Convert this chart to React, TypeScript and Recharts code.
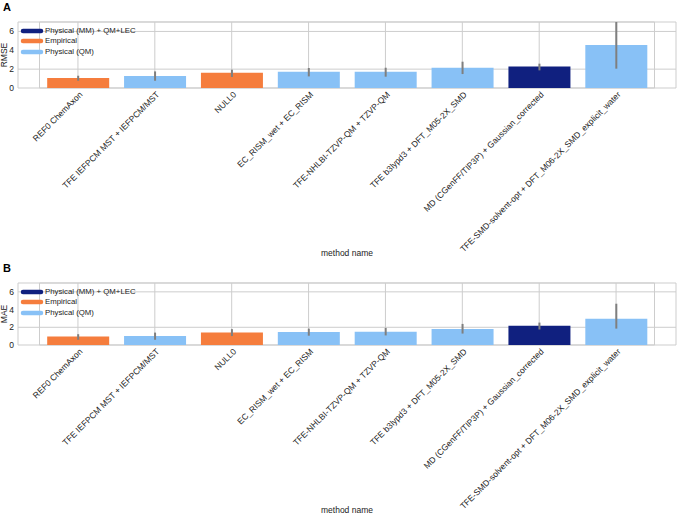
import {
  Bar,
  BarChart,
  CartesianGrid,
  Cell,
  ErrorBar,
  Label,
  ReferenceArea,
  XAxis,
  YAxis,
} from "recharts";

const methods = [
  "REF0 ChemAxon",
  "TFE IEFPCM MST + IEFPCM/MST",
  "NULL0",
  "EC_RISM_wet + EC_RISM",
  "TFE-NHLBI-TZVP-QM + TZVP-QM",
  "TFE b3lypd3 + DFT_M05-2X_SMD",
  "MD (CGenFF/TIP3P) + Gaussian_corrected",
  "TFE-SMD-solvent-opt + DFT_M06-2X_SMD_explicit_water",
];
const groups = [
  "Empirical",
  "Physical (QM)",
  "Empirical",
  "Physical (QM)",
  "Physical (QM)",
  "Physical (QM)",
  "Physical (MM) + QM+LEC",
  "Physical (QM)",
];

const rmse = [1.07, 1.27, 1.62, 1.73, 1.72, 2.15, 2.29, 4.56];
const rmseLow = [0.77, 0.77, 1.17, 1.23, 1.2, 1.48, 1.87, 2.05];
const rmseHigh = [1.3, 1.76, 1.94, 2.12, 2.15, 2.79, 2.58, 7.0];

const mae = [0.95, 1.01, 1.4, 1.47, 1.51, 1.82, 2.17, 2.95];
const maeLow = [0.59, 0.59, 1.01, 1.05, 1.08, 1.29, 1.75, 1.85];
const maeHigh = [1.22, 1.4, 1.79, 1.85, 1.93, 2.38, 2.53, 4.66];

const yTicks = [0, 2, 4, 6];
const legendOrder = ["Physical (MM) + QM+LEC", "Empirical", "Physical (QM)"];

const groupColors: Record<string, string> = {
  "Physical (MM) + QM+LEC": "#10207f",
  Empirical: "#f57d3d",
  "Physical (QM)": "#88c1f6",
};

const FONT = "'Liberation Sans', Arial, sans-serif";
const GRID = "#cdcdcd";

function MethodTick({ x, y, payload }: any) {
  return (
    <g transform={`translate(${x + 3},${y + 3})`}>
      <text
        x={0}
        y={0}
        dy={3}
        textAnchor="end"
        transform="rotate(-45)"
        fontSize={8.5}
        fontFamily={FONT}
        fill="#222"
      >
        {payload.value}
      </text>
    </g>
  );
}

function PanelLegend() {
  return (
    <div
      style={{
        position: "absolute",
        left: 20,
        top: 26,
        fontFamily: FONT,
        fontSize: 7.8,
        color: "#222",
        lineHeight: "10.3px",
      }}
    >
      {legendOrder.map((g) => (
        <div key={g} style={{ display: "flex", alignItems: "center" }}>
          <svg width={24} height={10}>
            <line
              x1={3}
              y1={5}
              x2={21}
              y2={5}
              stroke={groupColors[g]}
              strokeWidth={4.5}
              strokeLinecap="round"
            />
          </svg>
          <span style={{ marginLeft: 1 }}>{g}</span>
        </div>
      ))}
    </div>
  );
}

interface PanelProps {
  letter: string;
  metric: string;
  values: number[];
  low: number[];
  high: number[];
  height: number;
}

function Panel({ letter, metric, values, low, high, height }: PanelProps) {
  const data = methods.map((m, i) => ({
    method: m,
    group: groups[i],
    value: values[i],
    err: [values[i] - low[i], high[i] - values[i]],
  }));
  return (
    <div style={{ position: "relative", width: 677, height }}>
      <div
        style={{
          position: "absolute",
          left: 3,
          top: 1,
          fontFamily: FONT,
          fontWeight: "bold",
          fontSize: 11,
        }}
      >
        {letter}
      </div>
      <BarChart
        width={677}
        height={height}
        data={data}
        margin={{ top: 22, right: 1, left: 0, bottom: 0 }}
        barCategoryGap="10%"
      >
        <CartesianGrid stroke={GRID} vertical horizontal />
        <ReferenceArea y1={0} y2={7} fill="none" stroke={GRID} strokeWidth={1} />
        <XAxis
          dataKey="method"
          interval={0}
          height={261 - 88}
          padding={{ left: 21.5, right: 21.5 }}
          axisLine={false}
          tickLine={false}
          tickSize={0}
          tickMargin={2}
          tick={<MethodTick />}
        >
          <Label
            value="method name"
            position="insideBottom"
            offset={5}
            fontSize={8.5}
            fontFamily={FONT}
            fill="#222"
          />
        </XAxis>
        <YAxis
          domain={[0, 7]}
          ticks={yTicks}
          width={18}
          axisLine={false}
          tickLine={false}
          tickSize={0}
          tickMargin={4}
          tick={{ fontSize: 8.5, fontFamily: FONT, fill: "#222" }}
        >
          <Label
            content={({ viewBox }: any) => {
              const cy = viewBox.y + viewBox.height / 2;
              return (
                <text
                  x={7}
                  y={cy}
                  transform={`rotate(-90, 7, ${cy})`}
                  textAnchor="middle"
                  fontSize={8.5}
                  fontFamily={FONT}
                  fill="#222"
                >
                  {metric}
                </text>
              );
            }}
          />
        </YAxis>
        <Bar dataKey="value" isAnimationActive={false}>
          {data.map((d) => (
            <Cell key={d.method} fill={groupColors[d.group]} />
          ))}
          <ErrorBar dataKey="err" width={0} stroke="#7f7f7f" strokeWidth={2} />
        </Bar>
      </BarChart>
      <PanelLegend />
    </div>
  );
}

export default function App() {
  return (
    <div style={{ width: 677, height: 518, overflow: "hidden", background: "#fff" }}>
      <style>{`body{margin:0}`}</style>
      <Panel letter="A" metric="RMSE" values={rmse} low={rmseLow} high={rmseHigh} height={261} />
      <Panel letter="B" metric="MAE" values={mae} low={maeLow} high={maeHigh} height={257} />
    </div>
  );
}
